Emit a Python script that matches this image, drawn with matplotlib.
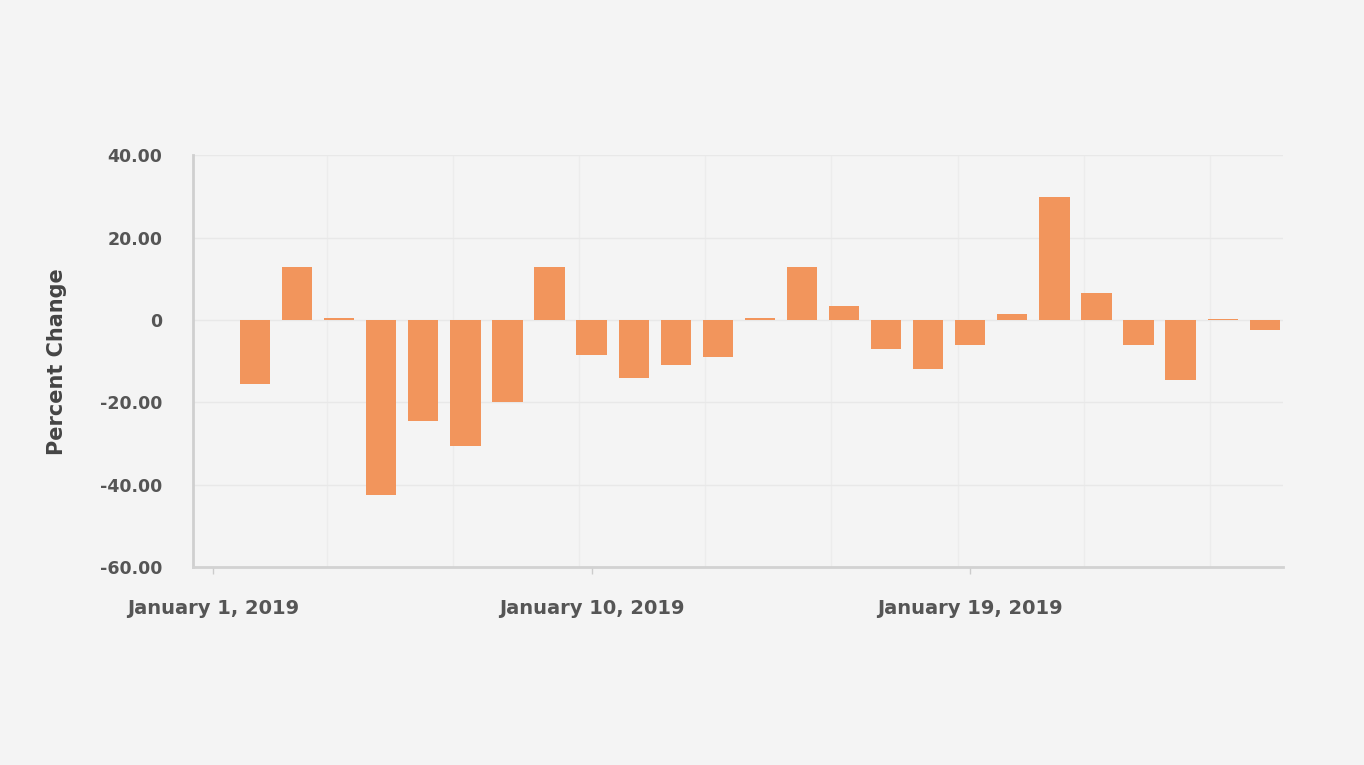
import numpy as np
import matplotlib
matplotlib.use('Agg')
import matplotlib.pyplot as plt

# Daily change values
days = list(range(1, 27))
change = [0.0, -15.5, 13.0, 0.4, -42.5, -24.5, -30.5, -20.0, 13.0, -8.5,
          -14.0, -11.0, -9.0, 0.4, 13.0, 3.5, -7.0, -12.0, -6.0, 1.5,
          30.0, 6.5, -6.0, -14.5, 0.3, -2.5]

tick_idx = [0, 9, 18]
tick_labels = ['January 1, 2019', 'January 10, 2019', 'January 19, 2019']
y_ticks = [40, 20, 0, -20, -40, -60]
y_tick_labels = ['40.00', '20.00', '0', '-20.00', '-40.00', '-60.00']

bg = '#f4f4f4'
bar_color = '#f2955c'
text_color = '#555555'

fig = plt.figure(figsize=(13.64, 7.65), dpi=100, facecolor=bg)
ax = fig.add_axes([0.1415, 0.2588, 0.799, 0.538], facecolor=bg)

x = np.arange(len(days))
ax.bar(x, change, width=0.72, color=bar_color, zorder=3)

ax.set_xlim(-0.475, 25.43)
ax.set_ylim(-60, 40)
ax.set_yticks(y_ticks)
ax.set_yticklabels(y_tick_labels)
ax.set_xticks(tick_idx)
ax.set_xticklabels(tick_labels)

ax.tick_params(axis='y', length=0, pad=22, labelsize=12.5, labelcolor=text_color)
ax.tick_params(axis='x', length=5, width=1, color='#cccccc', pad=18,
               labelsize=14, labelcolor=text_color)
for lab in ax.get_xticklabels() + ax.get_yticklabels():
    lab.set_fontweight('bold')

ax.grid(axis='y', color='#e8e8e8', linewidth=1, zorder=0)
ax.set_xticks(np.arange(2.7, 25, 3), minor=True)
ax.tick_params(axis='x', which='minor', length=0)
ax.grid(axis='x', which='minor', color='#ececec', linewidth=1, zorder=0)

for side in ['top', 'right']:
    ax.spines[side].set_visible(False)
ax.spines['left'].set_color('#cfcfcf')
ax.spines['left'].set_linewidth(2)
ax.spines['bottom'].set_color('#d2d2d2')
ax.spines['bottom'].set_linewidth(2)

ax.set_ylabel('Percent Change', fontsize=15, fontweight='bold', color='#444444',
              labelpad=24)

fig.savefig('out.png', dpi=100, facecolor=bg)
